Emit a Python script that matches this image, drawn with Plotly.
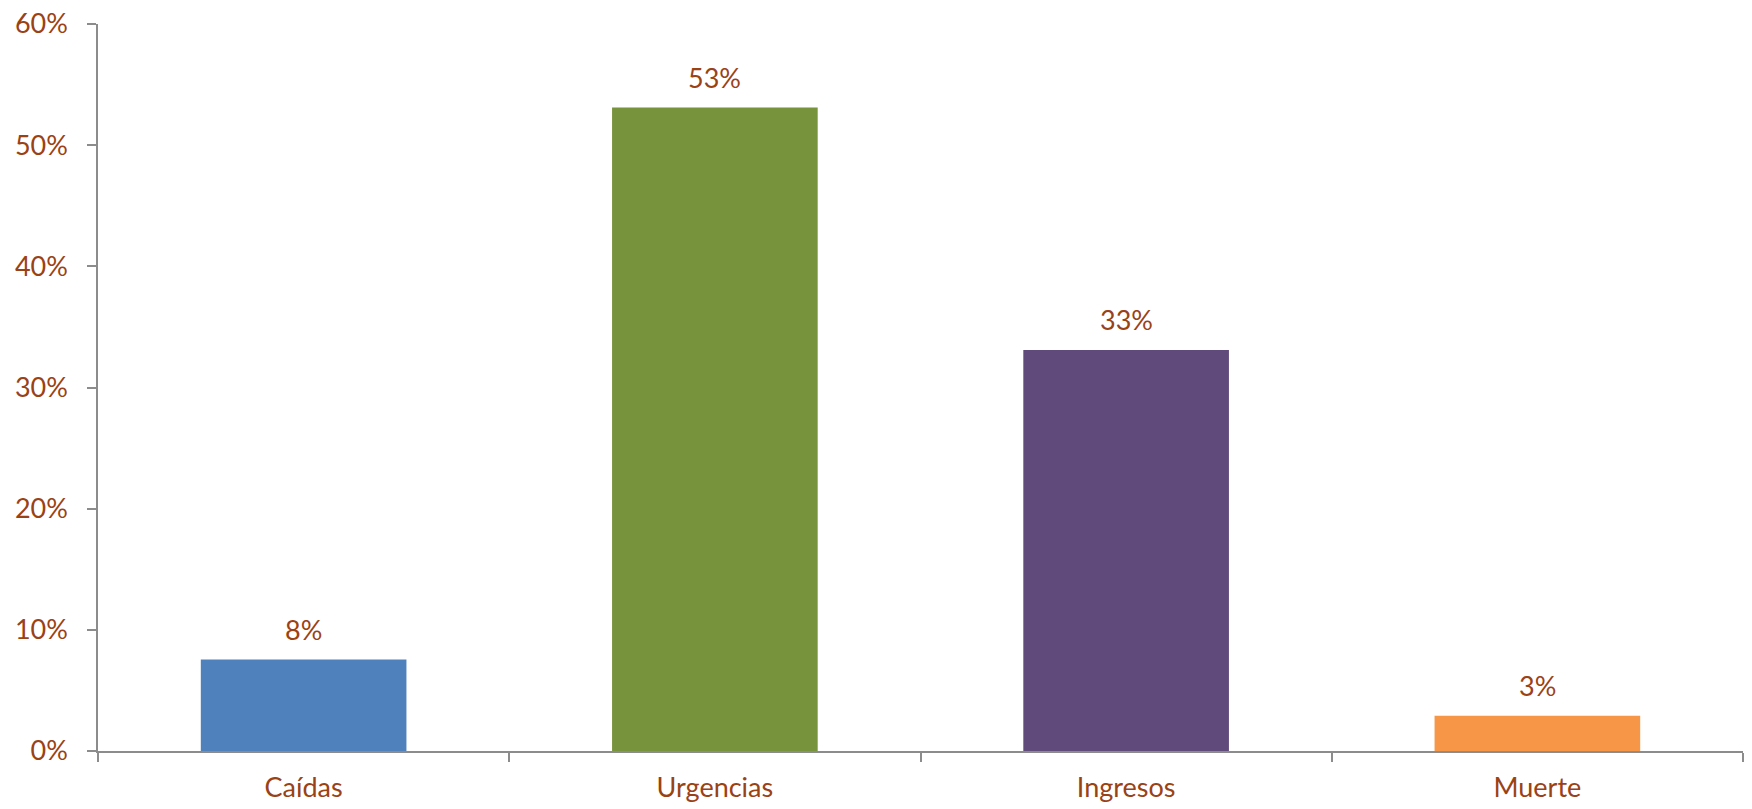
import plotly.graph_objects as go

# Share of events by category
categorias = ["Caídas", "Urgencias", "Ingresos", "Muerte"]
valores = [0.0755, 0.531, 0.331, 0.029]
colores = ["#4F81BD", "#77933C", "#604A7B", "#F79646"]

# Y axis ticks
ticks_y = [0, 0.1, 0.2, 0.3, 0.4, 0.5, 0.6]
ticks_y_texto = ["0%", "10%", "20%", "30%", "40%", "50%", "60%"]

texto_color = "#9A4215"
eje_color = "#8C8C8C"
fuente = "Lato, 'Noto Sans', sans-serif"
tam = 27

fig = go.Figure()
fig.add_trace(go.Bar(
    x=categorias,
    y=valores,
    marker=dict(color=colores, line=dict(width=0)),
    showlegend=False,
    hoverinfo="skip",
))

# Value labels above each bar
for cat, val in zip(categorias, valores):
    fig.add_annotation(
        x=cat, y=val,
        text=f"{val:.0%}",
        showarrow=False,
        yanchor="bottom",
        yshift=12,
        font=dict(family=fuente, size=tam, color=texto_color),
    )

fig.update_layout(
    width=1752, height=809,
    margin=dict(l=98, r=9, t=24, b=58),
    paper_bgcolor="white",
    plot_bgcolor="white",
    bargap=0.5,
    font=dict(family=fuente, size=tam, color=texto_color),
    xaxis=dict(
        type="category",
        automargin=False,
        showline=True, linecolor=eje_color, linewidth=1.5,
        ticks="outside", ticklen=9, tickcolor=eje_color, tickwidth=1.5,
        tickson="boundaries",
        showgrid=False, zeroline=False,
        tickfont=dict(family=fuente, size=tam, color=texto_color),
        ticklabelstandoff=12,
    ),
    yaxis=dict(
        range=[0, 0.6],
        automargin=False,
        tickvals=ticks_y, ticktext=ticks_y_texto,
        showline=True, linecolor=eje_color, linewidth=1.5,
        ticks="outside", ticklen=9, tickcolor=eje_color, tickwidth=1.5,
        showgrid=False, zeroline=False,
        tickfont=dict(family=fuente, size=tam, color=texto_color),
        ticklabelstandoff=14,
    ),
)

fig.write_html("out.html")
